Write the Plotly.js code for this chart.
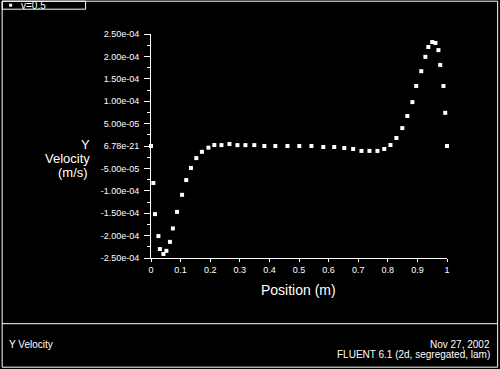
<!DOCTYPE html>
<html>
<head>
<meta charset="utf-8">
<script src="https://cdn.plot.ly/plotly-3.0.1.min.js"></script>
<style>html,body{margin:0;padding:0;background:#000;} #chart{width:500px;height:369px;}</style>
</head>
<body>
<div id="chart"></div>
<script>
// Data
const position = [0.000, 0.008, 0.0135, 0.025, 0.030, 0.042, 0.052, 0.064, 0.074, 0.088,
  0.105, 0.119, 0.135, 0.153, 0.172, 0.194, 0.214, 0.238, 0.265, 0.292,
  0.319, 0.349, 0.383, 0.420, 0.461, 0.501, 0.542, 0.582, 0.619, 0.653,
  0.683, 0.711, 0.738, 0.765, 0.788, 0.809, 0.829, 0.849, 0.866, 0.883,
  0.896, 0.913, 0.927, 0.937, 0.950, 0.961, 0.971, 0.977, 0.988, 0.994, 1.000];
const yVelocity = [0.0, -8.26e-5, -1.52e-4, -2.01e-4, -2.30e-4, -2.41e-4, -2.34e-4, -2.14e-4, -1.84e-4, -1.47e-4,
  -1.09e-4, -7.6e-5, -4.9e-5, -2.7e-5, -1.3e-5, -3.7e-6, 2.2e-6, 2.0e-6, 4.5e-6, 2.0e-6,
  2.0e-6, 2.0e-6, 0.0, 0.0, 0.0, 0.0, 0.0, -2.2e-6, -2.2e-6, -4.5e-6,
  -6.7e-6, -1.1e-5, -1.1e-5, -1.1e-5, -6.7e-6, 2.2e-6, 1.79e-5, 4.0e-5, 6.7e-5, 9.8e-5,
  1.34e-4, 1.67e-4, 1.99e-4, 2.21e-4, 2.32e-4, 2.30e-4, 2.14e-4, 1.81e-4, 1.34e-4, 7.4e-5, 0.0];
const yTickVals = [2.5e-4, 2.0e-4, 1.5e-4, 1.0e-4, 5.0e-5, 0, -5.0e-5, -1.0e-4, -1.5e-4, -2.0e-4, -2.5e-4];
const yTickText = ["2.50e-04", "2.00e-04", "1.50e-04", "1.00e-04", "5.00e-05", "6.78e-21",
  "-5.00e-05", "-1.00e-04", "-1.50e-04", "-2.00e-04", "-2.50e-04"];
const xTickVals = [0, 0.1, 0.2, 0.3, 0.4, 0.5, 0.6, 0.7, 0.8, 0.9, 1];
const xTickText = ["0", "0.1", "0.2", "0.3", "0.4", "0.5", "0.6", "0.7", "0.8", "0.9", "1"];
const seriesName = "v=0.5";
const xTitle = "Position (m)";
const yTitleLines = ["Y", "Velocity", "(m/s)"];
const footerLeft = "Y Velocity";
const footerRight1 = "Nov 27, 2002";
const footerRight2 = "FLUENT 6.1 (2d, segregated, lam)";

// layout geometry (pixels)
const W = 500, H = 369;
const L = 151, R = 447.3, T = 34.3, B = 258.3;
const px = x => (x - L) / (R - L);
const py = y => (B - y) / (B - T);
const FONT = "Liberation Sans, Arial, sans-serif";
const white = "#ffffff";

const trace = {
  x: position, y: yVelocity, type: "scatter", mode: "markers", name: seriesName,
  marker: {symbol: "square", size: 4, color: white, line: {width: 0}},
  cliponaxis: false, hoverinfo: "skip"
};

const shapes = [
  // outer frame
  {type: "rect", xref: "paper", yref: "paper", x0: px(2), x1: px(498), y0: py(1.5), y1: py(367.5), line: {color: white, width: 1}},
  // footer divider
  {type: "line", xref: "paper", yref: "paper", x0: px(2), x1: px(498), y0: py(324), y1: py(324), line: {color: white, width: 1}},
  // legend box
  {type: "rect", xref: "paper", yref: "paper", x0: px(2), x1: px(85.5), y0: py(1.5), y1: py(9.5), line: {color: white, width: 1}},
  // legend marker
  {type: "rect", xref: "paper", yref: "paper", x0: px(9), x1: px(12), y0: py(4), y1: py(7), fillcolor: white, line: {width: 0}}
];

const annotations = [
  {xref: "paper", yref: "paper", x: px(19), y: py(5.5), xanchor: "left", yanchor: "middle", showarrow: false,
   text: seriesName, font: {family: FONT, size: 10, color: white}},
  {xref: "paper", yref: "paper", x: px(298.5), y: py(290), xanchor: "center", yanchor: "middle", showarrow: false,
   text: xTitle, font: {family: FONT, size: 14, color: white}},
  {xref: "paper", yref: "paper", x: px(7), y: py(345), xanchor: "left", yanchor: "middle", showarrow: false,
   text: footerLeft, font: {family: FONT, size: 10, color: white}},
  {xref: "paper", yref: "paper", x: px(492), y: py(344.5), xanchor: "right", yanchor: "middle", showarrow: false,
   text: footerRight1, font: {family: FONT, size: 10, color: white}},
  {xref: "paper", yref: "paper", x: px(492), y: py(354.5), xanchor: "right", yanchor: "middle", showarrow: false,
   text: footerRight2, font: {family: FONT, size: 10, color: white}}
];
const yTitleY = [145, 159, 173];
const yTitleX = [92, 92, 90];
yTitleLines.forEach((t, i) => annotations.push({
  xref: "paper", yref: "paper", x: px(yTitleX[i]), y: py(yTitleY[i]), xanchor: "right", yanchor: "middle",
  showarrow: false, text: t, font: {family: FONT, size: 13, color: white}
}));

const layout = {
  width: W, height: H,
  paper_bgcolor: "#000", plot_bgcolor: "#000",
  showlegend: false,
  margin: {l: L, r: W - R, t: T, b: H - B, pad: 0, autoexpand: false},
  font: {family: FONT, color: white},
  xaxis: {
    range: [0, 1], tickmode: "array", tickvals: xTickVals, ticktext: xTickText,
    ticks: "outside", ticklen: 3, tickcolor: white, tickwidth: 1,
    showline: true, linecolor: white, linewidth: 1, showgrid: false, zeroline: false,
    tickfont: {family: FONT, size: 9, color: white}, fixedrange: true
  },
  yaxis: {
    range: [-2.5e-4, 2.5e-4], tickmode: "array", tickvals: yTickVals, ticktext: yTickText,
    ticks: "outside", ticklen: 6, tickcolor: white, tickwidth: 1,
    minor: {tickmode: "linear", tick0: 0, dtick: 2.5e-5, ticks: "outside", ticklen: 3, tickcolor: white, tickwidth: 1, showgrid: false},
    showline: true, linecolor: white, linewidth: 1, showgrid: false, zeroline: false,
    tickfont: {family: FONT, size: 9, color: white}, ticklabelstandoff: 3, fixedrange: true
  },
  shapes: shapes,
  annotations: annotations
};

Plotly.newPlot("chart", [trace], layout, {displayModeBar: false, staticPlot: true});
</script>
</body>
</html>
